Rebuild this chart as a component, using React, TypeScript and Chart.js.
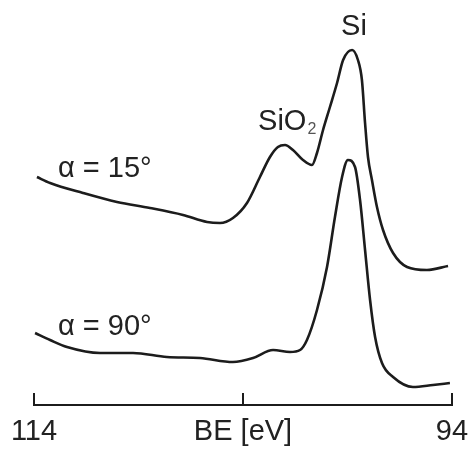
import React, { useEffect, useRef } from "react";
import { Chart, registerables } from "chart.js";

Chart.register(...registerables);

// Binding energy axis (eV)
const xMin = 94;
const xMax = 114;
const xTicks = [114, 104, 94];
const xTitle = "BE [eV]";

// Spectrum at alpha = 15°
const be15 = [113.86, 113.23, 111.66, 110.03, 108.45, 106.87, 105.72, 105.1, 104.48, 103.81, 103.19, 102.71, 102.33, 101.99, 101.61, 101.13, 100.7, 100.46, 100.17, 99.84, 99.5, 99.21, 98.78, 98.5, 98.31, 98.16, 98.02, 97.83, 97.59, 97.3, 96.82, 96.15, 95.2, 94.19];
const int15 = [228, 222, 212, 203, 197, 190, 183, 182, 187, 202, 228, 248, 258, 260, 255, 245, 240, 252, 275, 298, 322, 345, 355, 345, 325, 282, 248, 225, 198, 175, 152, 138, 135, 139];

// Spectrum at alpha = 90°
const be90 = [113.95, 113.23, 112.42, 110.84, 109.26, 107.64, 106.06, 104.48, 103.52, 102.56, 101.75, 101.27, 100.94, 100.46, 99.98, 99.6, 99.26, 98.98, 98.64, 98.4, 98.16, 97.92, 97.68, 97.35, 96.82, 95.87, 94.91, 94.1];
const int90 = [72, 65, 58, 52, 52, 48, 47, 43, 47, 55, 53, 55, 65, 95, 138, 188, 228, 245, 238, 205, 155, 105, 68, 42, 28, 18, 20, 22];

// Text labels (data coordinates of text baseline)
const labelTexts = ["α = 15°", "α = 90°", "Si", "SiO"];
const labelBE = [112.85, 112.85, 98.69, 103.28];
const labelInt = [228, 70, 370, 275];
const subscriptText = "2";

const FONT = '"Liberation Sans", Arial, Helvetica, sans-serif';
const INK = "#1c1c1c";

export default function App() {
  const ref = useRef<HTMLCanvasElement | null>(null);

  useEffect(() => {
    if (!ref.current) return;
    document.body.style.margin = "0";

    const upTicks = {
      id: "upTicks",
      afterDraw(chart: any) {
        const ctx = chart.ctx;
        const xs = chart.scales.x;
        const bottom = chart.chartArea.bottom;
        ctx.save();
        ctx.strokeStyle = INK;
        ctx.lineWidth = 2;
        xTicks.forEach((v) => {
          const px = Math.round(xs.getPixelForValue(v));
          ctx.beginPath();
          ctx.moveTo(px, bottom + 1);
          ctx.lineTo(px, bottom - 12);
          ctx.stroke();
        });
        ctx.restore();
      },
    };

    const textLabels = {
      id: "textLabels",
      afterDatasetsDraw(chart: any) {
        const ctx = chart.ctx;
        const xs = chart.scales.x;
        const ys = chart.scales.y;
        ctx.save();
        ctx.fillStyle = "#222";
        ctx.font = `29px ${FONT}`;
        ctx.textBaseline = "alphabetic";
        labelTexts.forEach((t, i) => {
          const px = xs.getPixelForValue(labelBE[i]);
          const py = ys.getPixelForValue(labelInt[i]);
          if (t === "Si") {
            ctx.textAlign = "center";
            ctx.fillText(t, px, py);
          } else {
            ctx.textAlign = "left";
            ctx.fillText(t, px, py);
            if (t === "SiO") {
              const w = ctx.measureText(t).width;
              ctx.font = `16px ${FONT}`;
              ctx.fillStyle = "#555";
              ctx.fillText(subscriptText, px + w + 1, py + 4);
              ctx.font = `29px ${FONT}`;
              ctx.fillStyle = "#222";
            }
          }
        });
        ctx.restore();
      },
    };

    const chart = new Chart(ref.current, {
      type: "line",
      data: {
        datasets: [
          {
            label: "α = 15°",
            data: be15.map((x, i) => ({ x, y: int15[i] })),
            borderColor: INK,
            borderWidth: 2.6,
            pointRadius: 0,
            cubicInterpolationMode: "monotone",
            fill: false,
          },
          {
            label: "α = 90°",
            data: be90.map((x, i) => ({ x, y: int90[i] })),
            borderColor: INK,
            borderWidth: 2.6,
            pointRadius: 0,
            cubicInterpolationMode: "monotone",
            fill: false,
          },
        ],
      },
      options: {
        animation: false,
        responsive: true,
        maintainAspectRatio: false,
        clip: false,
        layout: { padding: { left: 34, right: 16, top: 5, bottom: 0 } },
        plugins: {
          legend: { display: false },
          tooltip: { enabled: false },
        },
        scales: {
          x: {
            type: "linear",
            reverse: true,
            min: xMin,
            max: xMax,
            afterBuildTicks: (scale: any) => {
              scale.ticks = xTicks.map((v) => ({ value: v }));
            },
            afterFit: (scale: any) => {
              scale.paddingLeft = 0;
              scale.paddingRight = 0;
              scale.height = 45;
            },
            grid: { display: false, drawTicks: false },
            border: { display: true, color: INK, width: 2 },
            ticks: {
              color: "#222",
              font: { family: FONT, size: 29 },
              padding: 10,
              maxRotation: 0,
              autoSkip: false,
              callback: (v: any) => (v === 104 ? xTitle : String(v)),
            },
          },
          y: {
            display: false,
            min: 0,
            max: 400,
          },
        },
      },
      plugins: [upTicks, textLabels],
    });
    return () => chart.destroy();
  }, []);

  return (
    <div style={{ position: "fixed", left: 0, top: 0, width: 468, height: 450, background: "#fff" }}>
      <canvas ref={ref} />
    </div>
  );
}
